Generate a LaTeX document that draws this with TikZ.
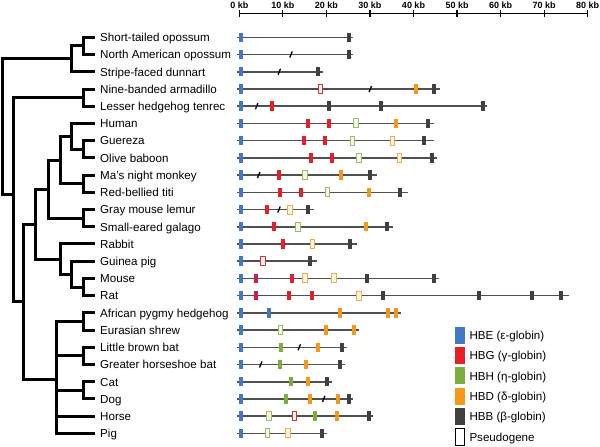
\documentclass[tikz,border=0pt]{standalone}
\usepackage{fontspec}
\setmainfont{Liberation Sans}
\definecolor{cHBE}{RGB}{66,120,196}
\definecolor{cHBG}{RGB}{232,30,40}
\definecolor{cHBH}{RGB}{122,174,65}
\definecolor{cHBD}{RGB}{247,152,29}
\definecolor{cHBB}{RGB}{64,64,64}
\definecolor{cMix}{RGB}{205,35,75}
\definecolor{pRo}{RGB}{200,60,60}
\definecolor{pRf}{RGB}{255,240,240}
\definecolor{pGo}{RGB}{150,190,100}
\definecolor{pGf}{RGB}{245,250,228}
\definecolor{pOo}{RGB}{240,170,80}
\definecolor{pOf}{RGB}{255,245,225}
\definecolor{rowc}{RGB}{80,80,80}
\newcommand\generow[4]{%
  \coordinate (#1s) at (237.3,#2);
  \coordinate (#1e) at (#3,#2);
  \draw[rowline] (#1s) -- (#1e);
  \foreach \st/\gx [count=\k] in {#4} {\node[\st] (#1g\k) at (\gx,#2) {};}
}
\newcommand\leaf[3]{%
  \coordinate (#1) at (95,#2);
  \node[leaflabel] (#1t) at (100,#2+4.3) {#3};
}
\begin{document}
\begin{tikzpicture}[x=1pt,y=-1pt,
  tree/.style={line width=3pt},
  rowline/.style={draw=rowc,line width=1.6pt},
  leaflabel/.style={anchor=base west,inner sep=0pt,font=\fontsize{11.6}{13}\selectfont},
  axislabel/.style={anchor=base,inner sep=0pt,font=\fontsize{9}{10}\selectfont\bfseries},
  gene/.style={rectangle,inner sep=0pt,minimum width=4pt,minimum height=9.5pt,draw=none},
  gb/.style={gene,fill=cHBE},
  gr/.style={gene,fill=cHBG},
  gg/.style={gene,fill=cHBH},
  go/.style={gene,fill=cHBD},
  gk/.style={gene,fill=cHBB},
  gm/.style={gene,fill=cMix},
  pseudo/.style={rectangle,inner sep=0pt,minimum width=4.5pt,minimum height=9pt,line width=0.9pt},
  pr/.style={pseudo,draw=pRo,fill=pRf},
  pg/.style={pseudo,draw=pGo,fill=pGf},
  po/.style={pseudo,draw=pOo,fill=pOf},
  sl/.style={rectangle,inner sep=0pt,minimum width=1.3pt,minimum height=6.5pt,fill=black,rotate=-22},
  legbox/.style={rectangle,inner sep=0pt,minimum width=10pt,minimum height=17pt,draw=none},
]
\useasboundingbox (0,0) rectangle (600,447);

% ---------- axis ----------
\coordinate (ax0) at (239.3,13.3);
\coordinate (ax1) at (587.7,13.3);
\draw[line width=1.2pt] (ax0) -- (ax1);
\foreach \k in {0,...,8} {
  \draw[line width=1.2pt] (239.3+43.55*\k,10) -- (239.3+43.55*\k,16.5);
  \node[axislabel] (axl\k) at (239.3+43.55*\k,8.2) {\the\numexpr\k*10\relax\ kb};
}

% ---------- leaves ----------
\leaf{L0}{37.3}{Short-tailed opossum}
\leaf{L1}{54.5}{North American opossum}
\leaf{L2}{71.7}{Stripe-faced dunnart}
\leaf{L3}{89.0}{Nine-banded armadillo}
\leaf{L4}{106.2}{Lesser hedgehog tenrec}
\leaf{L5}{123.4}{Human}
\leaf{L6}{140.6}{Guereza}
\leaf{L7}{157.8}{Olive baboon}
\leaf{L8}{175.1}{Ma's night monkey}
\leaf{L9}{192.3}{Red-bellied titi}
\leaf{L10}{209.5}{Gray mouse lemur}
\leaf{L11}{226.7}{Small-eared galago}
\leaf{L12}{243.9}{Rabbit}
\leaf{L13}{261.2}{Guinea pig}
\leaf{L14}{278.4}{Mouse}
\leaf{L15}{295.6}{Rat}
\leaf{L16}{312.8}{African pygmy hedgehog}
\leaf{L17}{330.1}{Eurasian shrew}
\leaf{L18}{347.3}{Little brown bat}
\leaf{L19}{364.5}{Greater horseshoe bat}
\leaf{L20}{381.7}{Cat}
\leaf{L21}{398.9}{Dog}
\leaf{L22}{416.1}{Horse}
\leaf{L23}{433.4}{Pig}

% ---------- internal nodes ----------
\coordinate (m1) at (83,45.9);
\coordinate (mars) at (71.7,58.8);
\coordinate (xa) at (83,97.6);
\coordinate (gu) at (83,149.2);
\coordinate (catar) at (71.7,136.3);
\coordinate (platy) at (83,183.7);
\coordinate (haplo) at (60,160);
\coordinate (strep) at (83,218.1);
\coordinate (prim) at (48.3,189);
\coordinate (murid) at (83,287);
\coordinate (rod) at (71.7,274.1);
\coordinate (glires) at (60,259);
\coordinate (euarch) at (35,224);
\coordinate (eul) at (83,321.5);
\coordinate (bats) at (83,355.9);
\coordinate (carn) at (83,390.3);
\coordinate (laur) at (56.7,379);
\coordinate (boreo) at (23,301.5);
\coordinate (euth) at (13,194);
\coordinate (root) at (2.5,126);

\begin{scope}[tree]
\draw (m1) |- (L0); \draw (m1) |- (L1);
\draw (mars) |- (m1); \draw (mars) |- (L2);
\draw (xa) |- (L3); \draw (xa) |- (L4);
\draw (gu) |- (L6); \draw (gu) |- (L7);
\draw (catar) |- (L5); \draw (catar) |- (gu);
\draw (platy) |- (L8); \draw (platy) |- (L9);
\draw (haplo) |- (catar); \draw (haplo) |- (platy);
\draw (strep) |- (L10); \draw (strep) |- (L11);
\draw (prim) |- (haplo); \draw (prim) |- (strep);
\draw (murid) |- (L14); \draw (murid) |- (L15);
\draw (rod) |- (L13); \draw (rod) |- (murid);
\draw (glires) |- (L12); \draw (glires) |- (rod);
\draw (euarch) |- (prim); \draw (euarch) |- (glires);
\draw (eul) |- (L16); \draw (eul) |- (L17);
\draw (bats) |- (L18); \draw (bats) |- (L19);
\draw (carn) |- (L20); \draw (carn) |- (L21);
\draw (laur) |- (eul); \draw (laur) |- (bats); \draw (laur) |- (carn);
\draw (laur) |- (L22); \draw (laur) |- (L23);
\draw (boreo) |- (euarch); \draw (boreo) |- (laur);
\draw (euth) |- (xa); \draw (euth) |- (boreo);
\draw (root) |- (mars); \draw (root) |- (euth);
\end{scope}

% ---------- gene rows ----------
\generow{R0}{37.3}{353.3}{gb/241.3, gk/348.7}
\generow{R1}{54.5}{353.3}{gb/241.3, sl/291, gk/348.7}
\generow{R2}{71.7}{323.3}{gb/241.3, sl/279.3, gk/317.7}
\generow{R3}{89.0}{440}{gb/241.3, pr/320.3, sl/370.3, go/416.3, gk/434}
\generow{R4}{106.2}{487.3}{gb/241.3, sl/256.7, gr/272.3, gk/328.7, gk/380.7, gk/482.7}
\generow{R5}{123.4}{434}{gb/241.3, gr/307.7, gr/328.7, pg/356, go/395.7, gk/428.3}
\generow{R6}{140.6}{434}{gb/241.3, gr/304, gr/325, pg/352.3, po/392.3, gk/424}
\generow{R7}{157.8}{437.3}{gb/241.3, gr/310.7, gr/331.7, pg/359, po/399.3, gk/431.7}
\generow{R8}{175.1}{376.7}{gb/241.3, sl/258.7, gr/279, pg/305, go/341.3, gk/369.7}
\generow{R9}{192.3}{407.7}{gb/241.3, gr/280, gr/301, pg/327.3, go/368.7, gk/400.3}
\generow{R10}{209.5}{314.3}{gb/241.3, gr/266.7, sl/279, po/290, gk/308}
\generow{R11}{226.7}{392.7}{gb/241.3, gr/274, pg/298, go/365.7, gk/387.3}
\generow{R12}{243.9}{356.7}{gb/241.3, gr/282.7, po/312.3, gk/350}
\generow{R13}{261.2}{316.7}{gb/241.3, pr/263, gk/310}
\generow{R14}{278.4}{439.3}{gb/241.3, gm/256, gr/292.3, po/304.7, po/333.7, gk/367, gk/433.7}
\generow{R15}{295.6}{568.7}{gb/241.3, gm/255.7, gr/289, gr/312, po/358.7, gk/383, gk/479.3, gk/531.7, gk/560.7}
\generow{R16}{312.8}{400.7}{gb/241.3, gb/269.3, go/339.7, go/387.7, go/396}
\generow{R17}{330.1}{358.7}{gb/241.3, pg/280.3, go/326, go/354}
\generow{R18}{347.3}{346.7}{gb/241.3, gg/280.7, sl/299.3, go/318.3, gk/342}
\generow{R19}{364.5}{345}{gb/241.3, sl/260.7, gg/280, go/305.7, gk/340.3}
\generow{R20}{381.7}{331.7}{gb/241.3, gg/291.3, go/308, gk/326.7}
\generow{R21}{398.9}{353.3}{gb/241.3, gg/285.7, go/310.3, sl/323.7, go/337.7, gk/348.7}
\generow{R22}{416.1}{373.3}{gb/241.3, pg/269, pr/294.3, gg/315, go/337, gk/368.7}
\generow{R23}{433.4}{326.7}{gb/241.3, pg/267.3, po/287.7, gk/322}

% ---------- legend ----------
\node[legbox,fill=cHBE] (k1) at (460,335) {};
\node[legbox,fill=cHBG] (k2) at (460,355.4) {};
\node[legbox,fill=cHBH] (k3) at (460,375.8) {};
\node[legbox,fill=cHBD] (k4) at (460,396.2) {};
\node[legbox,fill=cHBB] (k5) at (460,416.6) {};
\node[legbox,draw=black,line width=1pt,fill=white,minimum width=9pt,minimum height=17pt] (k6) at (460,437) {};
\node[leaflabel] (k1t) at (469.3,339.3) {HBE (ε-globin)};
\node[leaflabel] (k2t) at (469.3,359.7) {HBG (γ-globin)};
\node[leaflabel] (k3t) at (469.3,380.1) {HBH (η-globin)};
\node[leaflabel] (k4t) at (469.3,400.5) {HBD (δ-globin)};
\node[leaflabel] (k5t) at (469.3,420.9) {HBB (β-globin)};
\node[leaflabel] (k6t) at (469.3,441.3) {Pseudogene};
\end{tikzpicture}
\end{document}
